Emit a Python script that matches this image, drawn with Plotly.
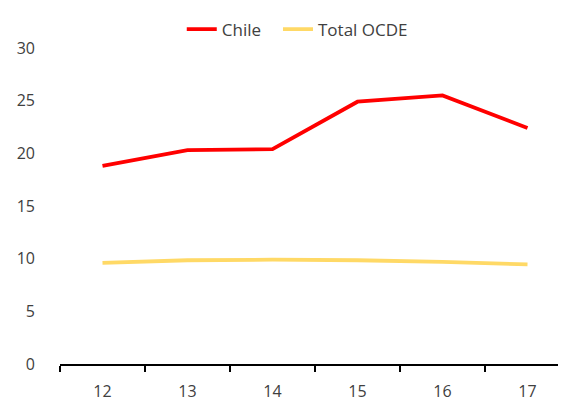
import plotly.graph_objects as go

years = ["12", "13", "14", "15", "16", "17"]
chile = [18.8, 20.3, 20.4, 24.9, 25.5, 22.4]
ocde = [9.6, 9.85, 9.9, 9.85, 9.7, 9.45]
y_ticks = [0, 5, 10, 15, 20, 25, 30]

font = dict(family="Open Sans, Liberation Sans, sans-serif", size=16, color="#404040")
leg_font = dict(size=17, color="#404040")

fig = go.Figure()
fig.add_trace(go.Scatter(x=years, y=chile, mode="lines", name="Chile",
                         line=dict(color="#FF0000", width=3.8), legend="legend"))
fig.add_trace(go.Scatter(x=years, y=ocde, mode="lines", name="Total OCDE",
                         line=dict(color="#FFD966", width=3.8), legend="legend2"))

fig.update_layout(
    width=566, height=401,
    margin=dict(l=52, r=4, t=40, b=45),
    paper_bgcolor="white", plot_bgcolor="white",
    font=font,
    showlegend=True,
    legend=dict(orientation="h", xref="container", yref="container",
                x=0.307, xanchor="left", y=0.946, yanchor="middle",
                font=leg_font, itemwidth=30),
    legend2=dict(orientation="h", xref="container", yref="container",
                 x=0.477, xanchor="left", y=0.946, yanchor="middle",
                 font=leg_font, itemwidth=30),
    xaxis=dict(type="category", range=[-0.5, 5.5], showline=True, linecolor="black",
               linewidth=1.5, ticks="outside", tickson="boundaries", ticklen=6,
               tickcolor="black", tickwidth=1.5, showgrid=False, zeroline=False,
               tickfont=font, automargin=False, ticklabelstandoff=12),
    yaxis=dict(range=[0, 30], tickvals=y_ticks, showgrid=False, zeroline=False,
               showline=False, ticks="", ticklabelstandoff=24, tickfont=font,
               automargin=False),
)

fig.write_html("out.html")
